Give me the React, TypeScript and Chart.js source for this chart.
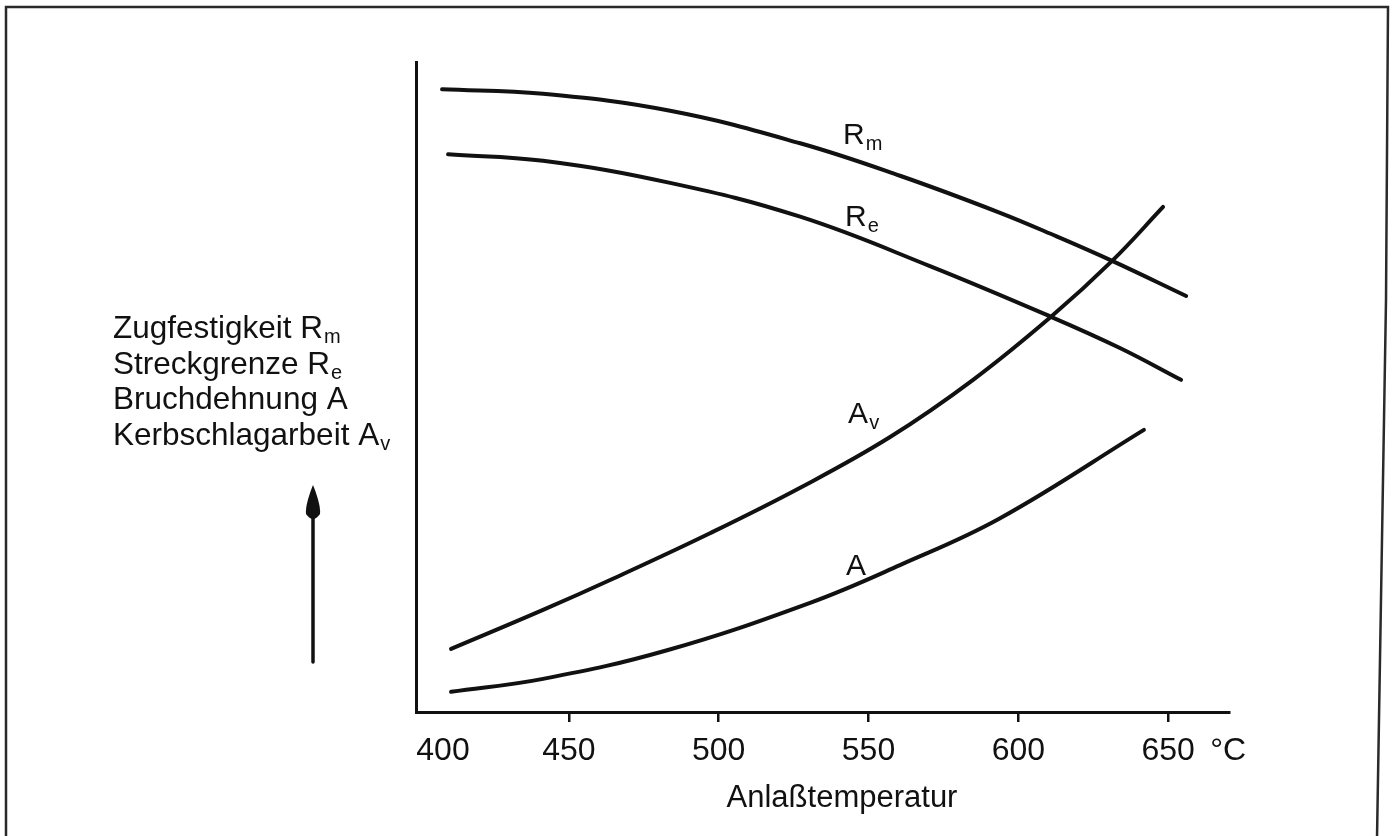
import React, { useEffect, useRef } from 'react';
import { Chart, registerables } from 'chart.js';

Chart.register(...registerables);

// ---- data ----
const X_TICKS = [400, 450, 500, 550, 600, 650];

const RM_T = [407.7, 441.4, 483.8, 527.2, 560.5, 593.9, 612.6, 631.3, 656.0];
const RM_V = [95.8, 95.1, 92.5, 87.5, 82.5, 76.8, 73.2, 69.4, 64.0];

const RE_T = [409.7, 441.4, 483.8, 527.2, 570.5, 610.9, 633.9, 654.3];
const RE_V = [85.8, 84.8, 81.4, 76.2, 68.6, 60.8, 56.0, 51.1];

const AV_T = [410.7, 441.4, 464.7, 497.1, 527.2, 557.2, 584.9, 610.9, 631.3, 648.3];
const AV_V = [9.7, 15.7, 20.5, 27.5, 34.5, 42.3, 51.1, 60.8, 69.4, 77.7];

const A_T = [410.7, 441.4, 482.8, 530.5, 560.5, 593.9, 641.9];
const A_V = [3.1, 5.1, 9.5, 16.8, 22.6, 29.8, 43.4];

const CURVE_LABELS = [
  { main: 'R', sub: 'm', t: 541.5, v: 87.4 },
  { main: 'R', sub: 'e', t: 542.2, v: 74.8 },
  { main: 'A', sub: 'v', t: 543.2, v: 44.5 },
  { main: 'A', sub: '', t: 542.5, v: 21.1 },
];

const Y_LABEL_LINES: [string, string][] = [
  ['Zugfestigkeit R', 'm'],
  ['Streckgrenze R', 'e'],
  ['Bruchdehnung A', ''],
  ['Kerbschlagarbeit A', 'v'],
];

const X_TITLE = 'Anlaßtemperatur';
const X_UNIT = '°C';

const FONT = "'Liberation Sans', Arial, Helvetica, sans-serif";
const INK = '#111111';

const toPts = (t: number[], v: number[]) => t.map((x, i) => ({ x, y: v[i] }));

const decor = {
  id: 'decor',
  beforeDraw(chart: any) {
    const { ctx, width, height } = chart;
    ctx.save();
    ctx.fillStyle = '#ffffff';
    ctx.fillRect(0, 0, width, height);
    ctx.strokeStyle = '#2a2a2a';
    ctx.lineWidth = 2.5;
    ctx.beginPath();
    ctx.moveTo(6, height + 2);
    ctx.lineTo(6, 7);
    ctx.lineTo(1388, 7);
    ctx.lineTo(1386, 300);
    ctx.lineTo(1377, height + 2);
    ctx.stroke();
    ctx.restore();
  },
  afterDraw(chart: any) {
    const { ctx } = chart;
    const xs = chart.scales.x;
    const ys = chart.scales.y;
    ctx.save();
    ctx.fillStyle = INK;
    ctx.strokeStyle = INK;
    ctx.textBaseline = 'alphabetic';

    // x tick labels
    ctx.font = `32px ${FONT}`;
    ctx.textAlign = 'center';
    X_TICKS.forEach((t, i) => {
      const px = xs.getPixelForValue(t) + (i === 0 ? 24 : 0);
      ctx.fillText(String(t), px, 760);
    });
    ctx.textAlign = 'left';
    ctx.fillText(X_UNIT, xs.getPixelForValue(650) + 42, 760);

    // x title
    ctx.font = `31px ${FONT}`;
    ctx.textAlign = 'center';
    ctx.fillText(X_TITLE, 842, 807);

    // left label block
    ctx.textAlign = 'left';
    Y_LABEL_LINES.forEach(([main, sub], i) => {
      const by = 338 + i * 35.7;
      ctx.font = `31.5px ${FONT}`;
      ctx.fillText(main, 113, by);
      if (sub) {
        const w = ctx.measureText(main).width;
        ctx.font = `20px ${FONT}`;
        ctx.fillText(sub, 113 + w + 1, by + 5);
      }
    });

    // arrow
    ctx.lineWidth = 3.5;
    ctx.lineCap = 'round';
    ctx.beginPath();
    ctx.moveTo(313, 662);
    ctx.lineTo(313, 514);
    ctx.stroke();
    ctx.beginPath();
    ctx.moveTo(313, 485);
    ctx.bezierCurveTo(316, 492, 321, 507, 320, 514);
    ctx.quadraticCurveTo(313, 524, 306, 514);
    ctx.bezierCurveTo(305, 507, 310, 492, 313, 485);
    ctx.fill();

    // curve labels
    CURVE_LABELS.forEach((l) => {
      const px = xs.getPixelForValue(l.t);
      const py = ys.getPixelForValue(l.v);
      ctx.font = `30px ${FONT}`;
      ctx.fillText(l.main, px, py);
      if (l.sub) {
        const w = ctx.measureText(l.main).width;
        ctx.font = `20px ${FONT}`;
        ctx.fillText(l.sub, px + w + 1, py + 6);
      }
    });
    ctx.restore();
  },
};

export default function App() {
  const ref = useRef<HTMLCanvasElement>(null);
  useEffect(() => {
    document.body.style.margin = '0';
    const canvas = ref.current!;
    const mk = (t: number[], v: number[]) => ({
      data: toPts(t, v),
      borderColor: INK,
      borderWidth: 4,
      borderCapStyle: 'round' as const,
      borderJoinStyle: 'round' as const,
      pointRadius: 0,
      fill: false,
      tension: 0.4,
    });
    const chart = new Chart(canvas, {
      type: 'line',
      data: {
        datasets: [mk(RM_T, RM_V), mk(RE_T, RE_V), mk(AV_T, AV_V), mk(A_T, A_V)],
      },
      options: {
        animation: false,
        responsive: false,
        maintainAspectRatio: false,
        layout: { padding: { left: 416, top: 62, right: 1393 - 1229, bottom: 836 - 712 - 10 } },
        plugins: { legend: { display: false }, tooltip: { enabled: false } },
        scales: {
          x: {
            type: 'linear',
            min: 399,
            max: 670.3,
            afterBuildTicks: (s: any) => {
              s.ticks = X_TICKS.slice(1).map((v) => ({ value: v }));
            },
            afterFit: (s: any) => {
              s.height = 10;
            },
            ticks: { display: false },
            grid: { drawOnChartArea: false, drawTicks: true, tickLength: 10, color: INK, lineWidth: 2.5 },
            border: { display: true, color: INK, width: 3 },
          },
          y: {
            type: 'linear',
            min: 0,
            max: 100,
            afterFit: (s: any) => {
              s.width = 0;
            },
            ticks: { display: false },
            grid: { display: false },
            border: { display: true, color: INK, width: 3 },
          },
        },
      },
      plugins: [decor],
    });
    return () => chart.destroy();
  }, []);
  return (
    <div style={{ position: 'absolute', left: 0, top: 0, width: 1393, height: 836, background: '#fff' }}>
      <canvas ref={ref} width={1393} height={836} style={{ display: 'block', width: 1393, height: 836 }} />
    </div>
  );
}
